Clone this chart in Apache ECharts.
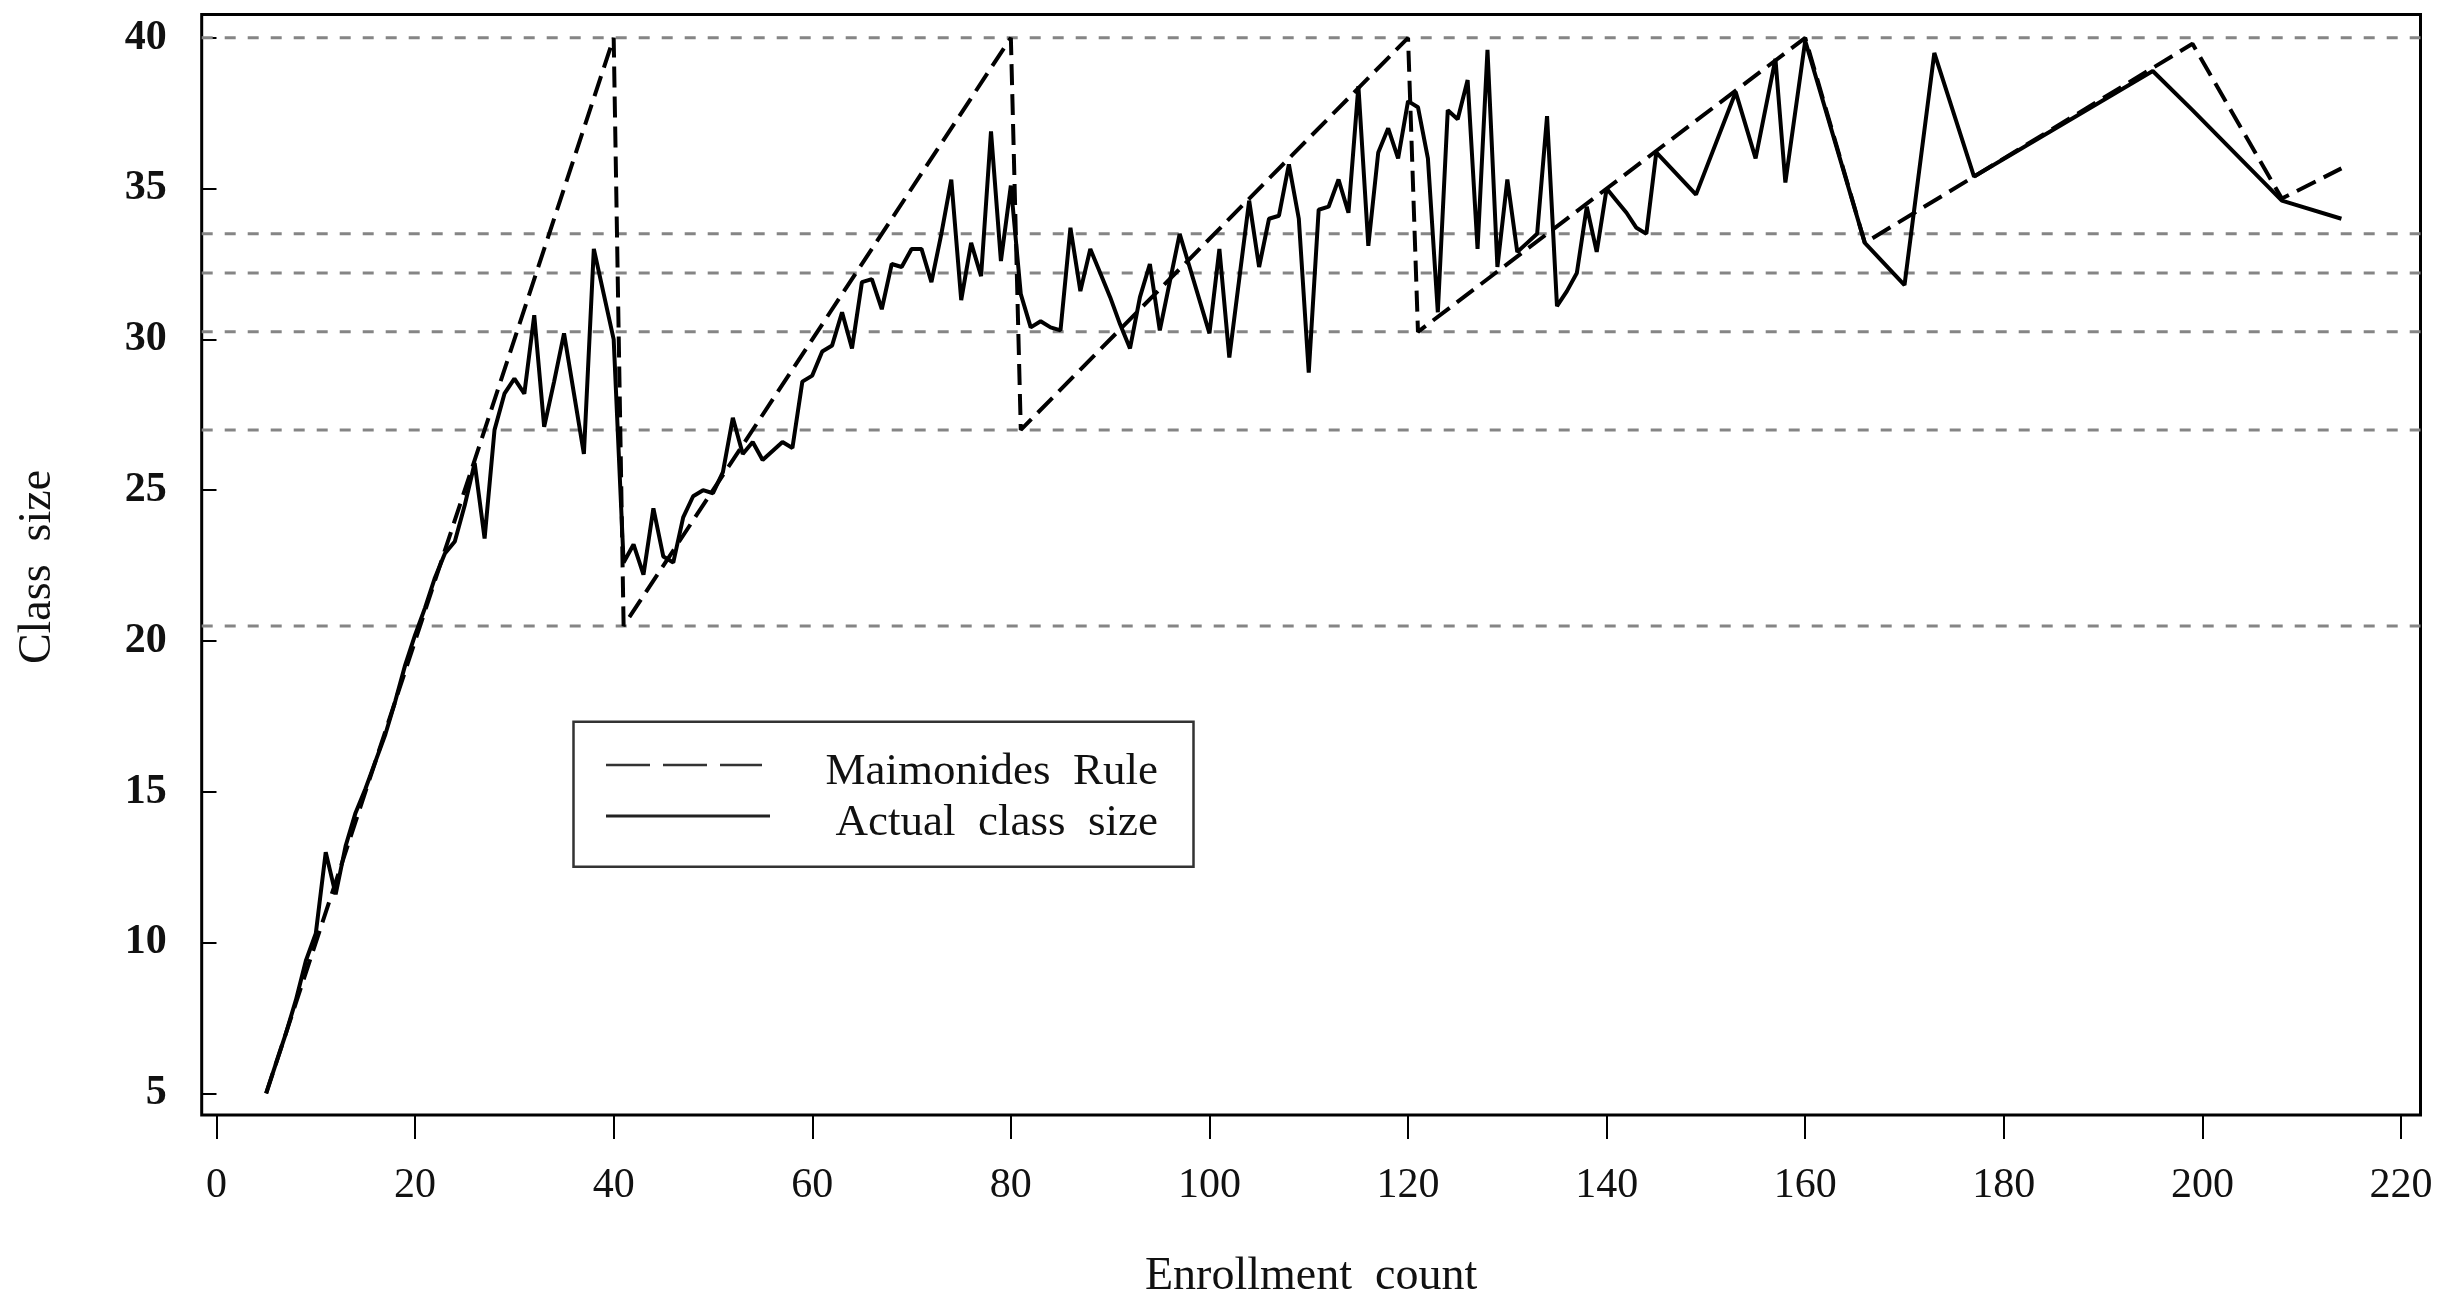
<!DOCTYPE html>
<html>
<head>
<meta charset="utf-8">
<title>Class size by enrollment count</title>
<script src="https://cdn.jsdelivr.net/npm/echarts@6/dist/echarts.min.js"></script>
<style>
  html, body { margin: 0; padding: 0; background: #fff; }
  #chart { width: 2437px; height: 1302px; }
</style>
</head>
<body>
<div id="chart"></div>
<script>
// Enrollment count (x) and average actual class size (y)
const enrollment = [
  5, 6, 7, 8, 9, 10, 11, 12, 13, 14, 15, 16, 17, 18, 19, 20, 21, 22, 23, 24,
  25, 26, 27, 28, 29, 30, 31, 32, 33, 34, 35, 36, 37, 38, 39, 40, 41, 42, 43, 44,
  45, 46, 47, 48, 49, 50, 51, 52, 53, 54, 55, 56, 57, 58, 59, 60, 61, 62, 63, 64,
  65, 66, 67, 68, 69, 70, 71, 72, 73, 74, 75, 76, 77, 78, 79, 80, 81, 82, 83, 84,
  85, 86, 87, 88, 89, 90, 91, 92, 93, 94, 95, 96, 97, 98, 99, 100, 101, 102, 103, 104,
  105, 106, 107, 108, 109, 110, 111, 112, 113, 114, 115, 116, 117, 118, 119, 120, 121, 122, 123, 124,
  125, 126, 127, 128, 129, 130, 131, 132, 133, 134, 135, 136, 137, 138, 139, 140, 141, 142, 143, 144,
  145, 149, 153, 155, 157, 158, 160, 166, 170, 173, 177, 195, 199, 208, 214
];
const classSize = [
  5.0, 6.0, 7.0, 8.1, 9.4, 10.3, 13.0, 11.6, 13.2, 14.3, 15.1, 16.0, 16.9, 18.0, 19.2, 20.2, 21.1, 22.1, 22.9, 23.3,
  24.5, 25.9, 23.4, 27.0, 28.2, 28.7, 28.2, 30.8, 27.1, 28.6, 30.2, 28.2, 26.2, 33.0, 31.5, 30.0, 22.6, 23.2, 22.2, 24.4,
  22.8, 22.6, 24.1, 24.8, 25.0, 24.9, 25.6, 27.4, 26.2, 26.6, 26.0, 26.3, 26.6, 26.4, 28.6, 28.8, 29.6, 29.8, 30.9, 29.7,
  31.9, 32.0, 31.0, 32.5, 32.4, 33.0, 33.0, 31.9, 33.5, 35.3, 31.3, 33.2, 32.1, 36.9, 32.6, 35.1, 31.5, 30.4, 30.6, 30.4,
  30.3, 33.7, 31.6, 33.0, 32.2, 31.4, 30.5, 29.7, 31.4, 32.5, 30.3, 31.9, 33.5, 32.4, 31.3, 30.2, 33.0, 29.4, 32.0, 34.6,
  32.4, 34.0, 34.1, 35.8, 34.0, 28.9, 34.3, 34.4, 35.3, 34.2, 38.4, 33.1, 36.2, 37.0, 36.0, 37.9, 37.7, 36.0, 30.9, 37.6,
  37.3, 38.6, 33.0, 39.6, 32.4, 35.3, 32.9, 33.2, 33.5, 37.4, 31.1, 31.6, 32.2, 34.4, 32.9, 35.0, 34.6, 34.2, 33.7, 33.5,
  36.2, 34.8, 38.2, 36.0, 39.3, 35.2, 39.9, 33.2, 31.8, 39.5, 35.4, 38.9, 37.6, 34.6, 34.0
];

// Predicted class size under the Maimonides rule, at its break points
const ruleEnrollment = [5, 40, 41, 80, 81, 120, 121, 160, 166, 199, 208, 214];
const ruleClassSize  = [5, 40, 20.5, 40, 27, 40, 30.25, 40, 33.2, 39.8, 34.67, 35.67];

// Horizontal reference levels
const guideLevels = [40, 33.5, 32.2, 30.25, 27, 20.5];

// Tick labels
const xTickValues = [0, 20, 40, 60, 80, 100, 120, 140, 160, 180, 200, 220];
const yTickValues = [5, 10, 15, 20, 25, 30, 35, 40];

// Layout (pixels): the framed plot box and the span covered by the tick range
const box   = { left: 201.7, right: 2420.5, top: 14.5, bottom: 1115 };
const inner = { left: 216.5, right: 2401, top: 37.8, bottom: 1093.4 };

const xLo = xTickValues[0], xHi = xTickValues[xTickValues.length - 1];
const yLo = yTickValues[0], yHi = yTickValues[yTickValues.length - 1];
const xPerPx = (xHi - xLo) / (inner.right - inner.left);
const yPerPx = (yHi - yLo) / (inner.bottom - inner.top);
const frameXMin = xLo - (inner.left - box.left) * xPerPx;
const frameXMax = xHi + (box.right - inner.right) * xPerPx;
const frameYMin = yLo - (box.bottom - inner.bottom) * yPerPx;
const frameYMax = yHi + (inner.top - box.top) * yPerPx;

const serif = 'Liberation Serif';

const chart = echarts.init(document.getElementById('chart'), null, { renderer: 'canvas' });

const guideSeries = guideLevels.map(level => ({
  type: 'line',
  xAxisIndex: 0, yAxisIndex: 0,
  data: [[frameXMin, level], [frameXMax, level]],
  symbol: 'none', silent: true, z: 1,
  lineStyle: { color: '#858585', width: 3, type: [11, 12] }
}));

chart.setOption({
  animation: false,
  backgroundColor: '#ffffff',
  grid: [
    { left: box.left, top: box.top, width: box.right - box.left, height: box.bottom - box.top,
      show: true, borderColor: '#000', borderWidth: 3, backgroundColor: 'transparent' },
    { left: inner.left, top: inner.top, width: inner.right - inner.left, height: inner.bottom - inner.top,
      show: false }
  ],
  xAxis: [
    { gridIndex: 0, type: 'value', min: frameXMin, max: frameXMax, show: false },
    { gridIndex: 1, type: 'value', min: xLo, max: xHi, interval: xTickValues[1] - xTickValues[0],
      position: 'bottom', offset: box.bottom - inner.bottom,
      axisLine: { show: false },
      axisTick: { show: true, length: 24, lineStyle: { color: '#000', width: 2 } },
      splitLine: { show: false },
      axisLabel: { margin: 50, fontFamily: serif, fontSize: 42, color: '#111' } }
  ],
  yAxis: [
    { gridIndex: 0, type: 'value', min: frameYMin, max: frameYMax, show: false },
    { gridIndex: 1, type: 'value', min: yLo, max: yHi, interval: yTickValues[1] - yTickValues[0],
      position: 'left', offset: inner.left - box.left,
      axisLine: { show: false },
      axisTick: { show: true, length: 14, lineStyle: { color: '#000', width: 2 } },
      splitLine: { show: false },
      axisLabel: { margin: 35, fontFamily: serif, fontSize: 42, fontWeight: 'bold', color: '#111' } }
  ],
  series: [
    ...guideSeries,
    { type: 'line', name: 'Maimonides Rule', xAxisIndex: 0, yAxisIndex: 0,
      data: ruleEnrollment.map((e, i) => [e, ruleClassSize[i]]),
      symbol: 'none', silent: true, z: 3,
      lineStyle: { color: '#000', width: 4, type: [21, 9] } },
    { type: 'line', name: 'Actual class size', xAxisIndex: 0, yAxisIndex: 0,
      data: enrollment.map((e, i) => [e, classSize[i]]),
      symbol: 'none', silent: true, z: 4,
      lineStyle: { color: '#000', width: 4 } }
  ],
  graphic: [
    // axis titles
    { type: 'text', x: (box.left + box.right) / 2, y: 1277, z: 20,
      style: { text: 'Enrollment\u2002count', fontFamily: serif, fontSize: 46, fill: '#111',
               align: 'center', verticalAlign: 'middle' } },
    { type: 'text', x: 38, y: 567, rotation: Math.PI / 2, z: 20,
      style: { text: 'Class\u2002size', fontFamily: serif, fontSize: 46, fill: '#111',
               align: 'center', verticalAlign: 'middle' } },
    // legend box
    { type: 'rect', z: 20, shape: { x: 573.5, y: 721.7, width: 620, height: 145 },
      style: { fill: '#fff', stroke: '#333', lineWidth: 2.5 } },
    { type: 'line', z: 21, shape: { x1: 606, y1: 765, x2: 762, y2: 765 },
      style: { stroke: '#333', lineWidth: 2.5, lineDash: [44, 13] } },
    { type: 'line', z: 21, shape: { x1: 606, y1: 816, x2: 770, y2: 816 },
      style: { stroke: '#222', lineWidth: 3 } },
    { type: 'text', x: 1158, y: 772, z: 21,
      style: { text: 'Maimonides\u2002Rule', fontFamily: serif, fontSize: 45, fill: '#111',
               align: 'right', verticalAlign: 'middle' } },
    { type: 'text', x: 1158, y: 823, z: 21,
      style: { text: 'Actual\u2002class\u2002size', fontFamily: serif, fontSize: 45, fill: '#111',
               align: 'right', verticalAlign: 'middle' } }
  ]
});
</script>
</body>
</html>
